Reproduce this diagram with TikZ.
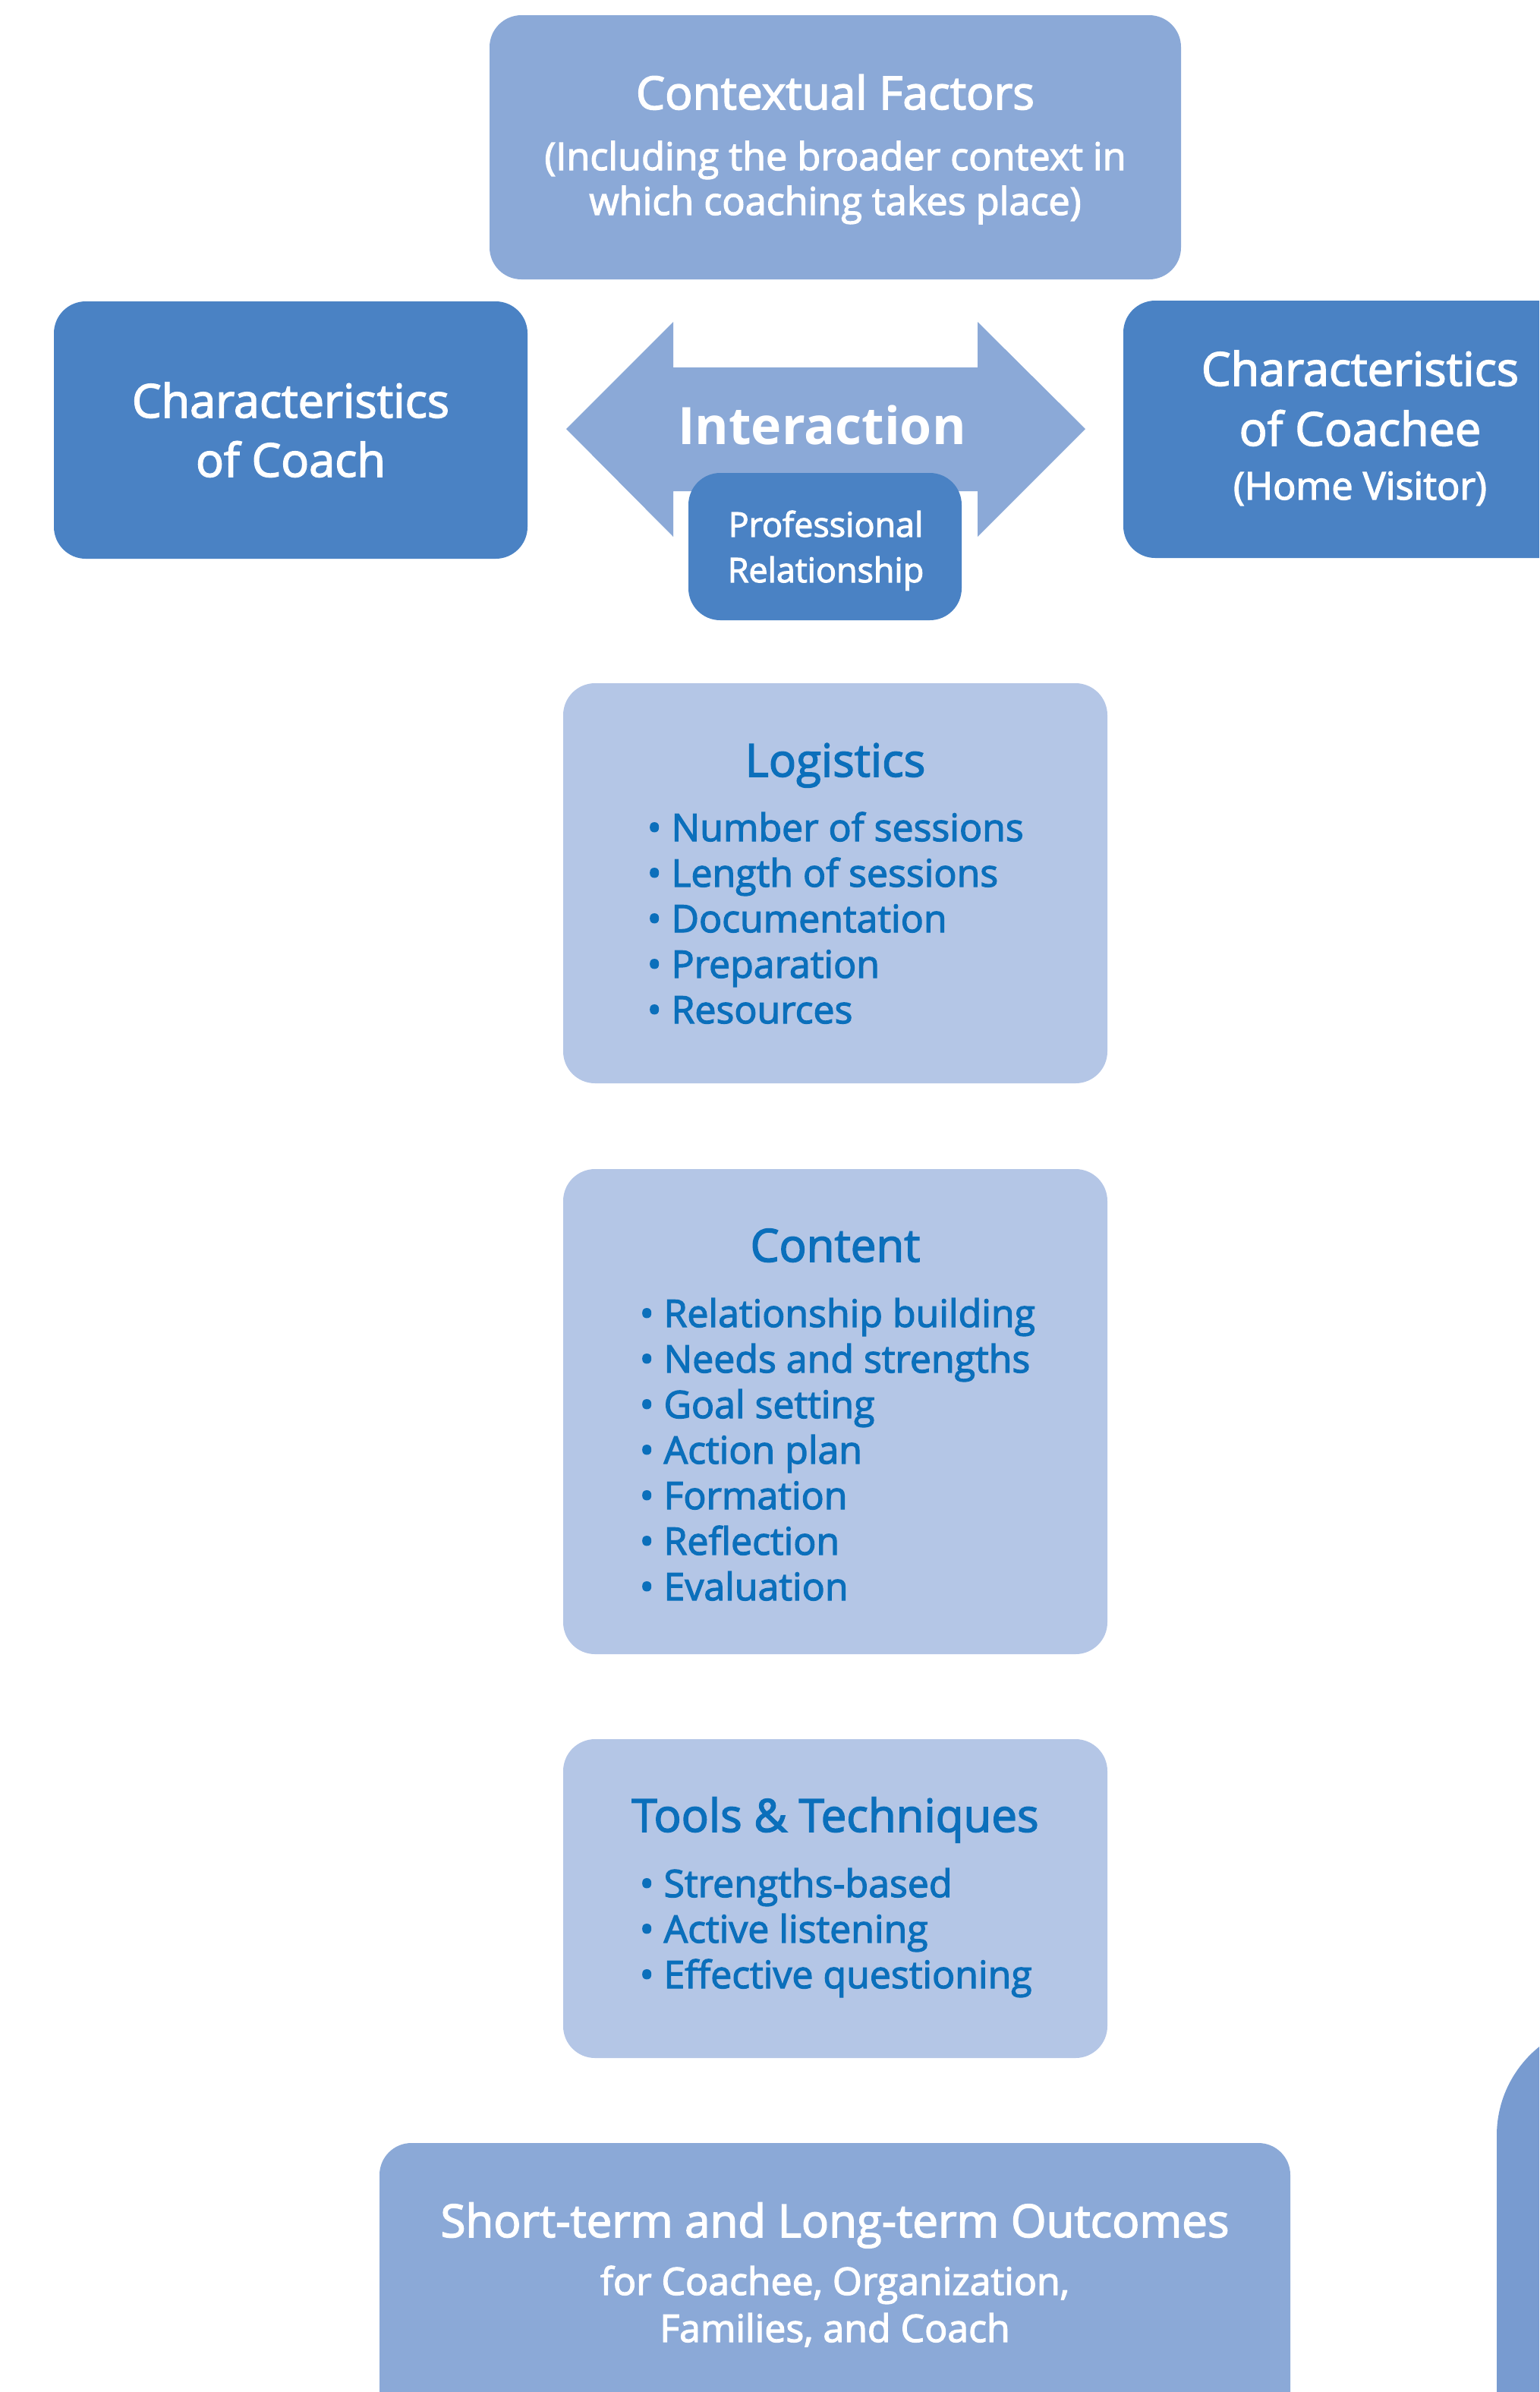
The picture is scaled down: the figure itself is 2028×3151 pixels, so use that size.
\documentclass[tikz,border=0pt]{standalone}
\usepackage{fontspec}
\setmainfont{Open Sans}[UprightFeatures={FakeBold=2.5}]
\definecolor{midblue}{HTML}{8BA9D7}
\definecolor{darkblue}{HTML}{4A82C4}
\definecolor{lightblue}{HTML}{B4C6E6}
\definecolor{textblue}{HTML}{0B6FBB}
\definecolor{sideblue}{HTML}{789BD0}
\newcommand\fsz[1]{\fontsize{#1}{#1}\selectfont}
\tikzset{
  box/.style={rectangle, rounded corners=10.5pt, inner sep=0pt, draw=none},
  wtxt/.style={anchor=base, inner sep=0pt, text=white},
  btxt/.style={anchor=base, inner sep=0pt, text=textblue},
  item/.style={anchor=base west, inner sep=0pt, text=textblue, font=\fsz{12.5}},
}
\begin{document}
\begin{tikzpicture}[x=0.25pt, y=-0.25pt]
\useasboundingbox (0,0) rectangle (2028,3151);
\clip (0,0) rectangle (2028,3151);

% Contextual factors
\node[box, fill=midblue, minimum width=227.75pt, minimum height=87pt] (ctx) at (1100.5,194) {};
\node[wtxt, font=\fsz{15.1}] (ctxA) at (1100.5,144) {Contextual Factors};
\node[wtxt, font=\fsz{12.6}] (ctxB) at (1100.5,224) {(Including the broader context in};
\node[wtxt, font=\fsz{12.6}] (ctxC) at (1100.5,283) {which coaching takes place)};

% Coach
\node[box, fill=darkblue, minimum width=156pt, minimum height=84.75pt] (coach) at (383,566.5) {};
\node[wtxt, font=\fsz{15.3}] (coachA) at (383,550) {Characteristics};
\node[wtxt, font=\fsz{15.3}] (coachB) at (383,628) {of Coach};

% Coachee
\node[box, fill=darkblue, minimum width=156pt, minimum height=84.75pt] (coachee) at (1792,565.5) {};
\node[wtxt, font=\fsz{15.3}] (coacheeA) at (1792,508) {Characteristics};
\node[wtxt, font=\fsz{15.3}] (coacheeB) at (1792,587) {of Coachee};
\node[wtxt, font=\fsz{12.6}] (coacheeC) at (1792,658) {(Home Visitor)};

% Interaction arrow
\coordinate (aL) at (746,565);
\coordinate (aR) at (1430,565);
\fill[midblue] (aL) -- (887,424) -- (887,484) -- (1288,484) -- (1288,424) -- (aR)
  -- (1288,707) -- (1288,647) -- (887,647) -- (887,707) -- cycle;
\node[wtxt, font=\bfseries\fsz{17}] (inter) at (1083,585) {Interaction};

% Professional relationship
\node[box, fill=darkblue, minimum width=90pt, minimum height=48.5pt] (prof) at (1087,720) {};
\node[wtxt, font=\fsz{11.2}] (profA) at (1088,707) {Professional};
\node[wtxt, font=\fsz{11.2}] (profB) at (1088,767) {Relationship};

% Logistics
\node[box, fill=lightblue, minimum width=179.25pt, minimum height=131.75pt] (logi) at (1100.5,1163.5) {};
\node[btxt, font=\fsz{15}] (logiH) at (1100.5,1023) {Logistics};
\node[item] (l1) at (852,1108) {• Number of sessions};
\node[item] (l2) at (852,1168) {• Length of sessions};
\node[item] (l3) at (852,1228) {• Documentation};
\node[item] (l4) at (852,1288) {• Preparation};
\node[item] (l5) at (852,1348) {• Resources};

% Content
\node[box, fill=lightblue, minimum width=179.25pt, minimum height=159.75pt] (cont) at (1100.5,1859.5) {};
\node[btxt, font=\fsz{15}] (contH) at (1100.5,1662) {Content};
\node[item] (c1) at (842,1748) {• Relationship building};
\node[item] (c2) at (842,1808) {• Needs and strengths};
\node[item] (c3) at (842,1868) {• Goal setting};
\node[item] (c4) at (842,1928) {• Action plan};
\node[item] (c5) at (842,1988) {• Formation};
\node[item] (c6) at (842,2048) {• Reflection};
\node[item] (c7) at (842,2108) {• Evaluation};

% Tools
\node[box, fill=lightblue, minimum width=179.25pt, minimum height=105pt] (tools) at (1100.5,2501) {};
\node[btxt, font=\fsz{15}] (toolsH) at (1100.5,2413) {Tools \& Techniques};
\node[item] (t1) at (842,2499) {• Strengths-based};
\node[item] (t2) at (842,2559) {• Active listening};
\node[item] (t3) at (842,2619) {• Effective questioning};

% Outcomes
\node[box, fill=midblue, minimum width=300pt, minimum height=120pt] (out) at (1100,3063) {};
\node[wtxt, font=\fsz{15}] (outA) at (1100,2947) {Short-term and Long-term Outcomes};
\node[wtxt, font=\fsz{12.5}] (outB) at (1100,3023) {for Coachee, Organization,};
\node[wtxt, font=\fsz{12.5}] (outC) at (1100,3085) {Families, and Coach};

% Partial box bottom right
\node[box, rounded corners=37.5pt, fill=sideblue, minimum width=100pt, minimum height=200pt] (side) at (2172,3063) {};
\end{tikzpicture}
\end{document}
